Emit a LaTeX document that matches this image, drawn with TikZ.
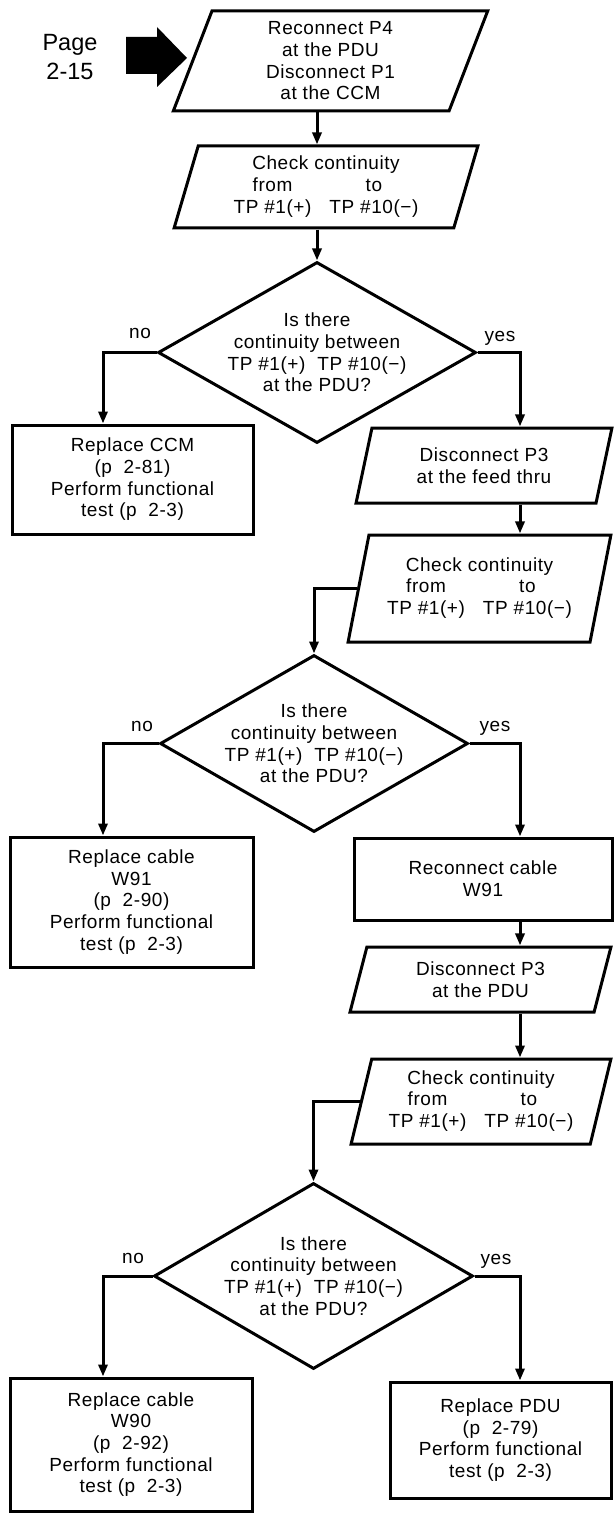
\documentclass[tikz,border=0pt]{standalone}
\usepackage{fontspec}
\setmainfont{Liberation Sans}[LetterSpace=3]
\newfontfamily\pagefont{Liberation Sans}
\usetikzlibrary{shapes.geometric,arrows.meta}
\newcommand{\chkcont}{\begin{tabular}{@{}c@{\hspace{18pt}}c@{}}\multicolumn{2}{@{}c@{}}{Check continuity}\\ from & to\\ TP \#1(+) & TP \#10(−)\end{tabular}}
\newcommand{\isthere}{Is there\\continuity between\\TP \#1(+)\hspace{12pt}TP \#10(−)\\at the PDU?}
\begin{document}
\begin{tikzpicture}[x=1pt,y=-1pt,
  every node/.style={font=\fontsize{19}{21.7}\selectfont},
  base/.style={draw, line width=3pt, inner sep=0pt, align=center},
  para/.style={base, trapezium, trapezium left angle=75, trapezium right angle=105, trapezium stretches=true},
  rect/.style={base, rectangle},
  dia/.style={base, diamond},
  txt/.style={align=center, inner sep=0pt},
  lbl/.style={inner sep=0pt, anchor=base},
  arr/.style={line width=3pt, -{Triangle[length=12pt,width=9pt]}}]
\fill[white] (0,0) rectangle (613,1514);
\useasboundingbox (0,0) rectangle (613,1514);

\coordinate (colL) at (103,0);
\coordinate (colR) at (520,0);

% entry
\node[txt, font=\pagefont\fontsize{23.5}{29}\selectfont] (pg) at (70,57.5) {Page\\2-15};
\fill (126,37) -- (157,37) -- (157,27) -- (187,58) -- (157,87) -- (157,74) -- (126,74) -- cycle;

% nodes
\node[para, minimum width=315, minimum height=100] (B1) at (330.5,61) {Reconnect P4\\at the PDU\\Disconnect P1\\at the CCM};
\node[para, minimum width=304, minimum height=82] (B2) at (326,187) {\chkcont};
\node[dia, minimum width=318, minimum height=181] (D1) at (317,352.5) {};
\node[txt] (D1t) at (D1.center) {\isthere};
\node[rect, minimum width=241, minimum height=109] (CCM) at (132.5,479.5) {Replace CCM\\(p\ \ 2-81)\\Perform functional\\test (p\ \ 2-3)};
\node[para, minimum width=256, minimum height=75] (FT) at (484,465.5) {Disconnect P3\\at the feed thru};
\node[para, minimum width=263, minimum height=107] (C2) at (479.5,588.5) {\chkcont};
\node[dia, minimum width=308, minimum height=177] (D2) at (314,743.5) {};
\node[txt] (D2t) at (D2.center) {\isthere};
\node[rect, minimum width=243, minimum height=130] (RW91) at (131.5,902) {Replace cable\\W91\\(p\ \ 2-90)\\Perform functional\\test (p\ \ 2-3)};
\node[rect, minimum width=258, minimum height=82] (CW91) at (483,879) {Reconnect cable\\W91};
\node[para, minimum width=261, minimum height=65] (PD) at (480.5,979.5) {Disconnect P3\\at the PDU};
\node[para, minimum width=260, minimum height=85] (C3) at (481,1101.5) {\chkcont};
\node[dia, minimum width=319, minimum height=186] (D3) at (313.5,1276) {};
\node[txt] (D3t) at (D3.center) {\isthere};
\node[rect, minimum width=242, minimum height=133] (RW90) at (131,1444.5) {Replace cable\\W90\\(p\ \ 2-92)\\Perform functional\\test (p\ \ 2-3)};
\node[rect, minimum width=221, minimum height=116] (RP) at (500.5,1440) {Replace PDU\\(p\ \ 2-79)\\Perform functional\\test (p\ \ 2-3)};

% labels
\node[lbl] (no1) at (140,338) {no};
\node[lbl] (yes1) at (500,341) {yes};
\node[lbl] (no2) at (142,731) {no};
\node[lbl] (yes2) at (495,731) {yes};
\node[lbl] (no3) at (133,1263) {no};
\node[lbl] (yes3) at (496,1264) {yes};

% connectors
\draw[arr] (B1.south -| D1.north) -- (B2.north -| D1.north);
\draw[arr] (B2.south -| D1.north) -- (D1.north);
\draw[arr] (D1.west) -| (colL |- CCM.north);
\draw[arr] (D1.east) -| (colR |- FT.north);
\draw[arr] (colR |- FT.south) -- (colR |- C2.north);
\draw[arr] (C2.west) -| (D2.north);
\draw[arr] (D2.west) -| (colL |- RW91.north);
\draw[arr] (D2.east) -| (colR |- CW91.north);
\draw[arr] (colR |- CW91.south) -- (colR |- PD.north);
\draw[arr] (colR |- PD.south) -- (colR |- C3.north);
\draw[arr] (C3.west) -| (D3.north);
\draw[arr] (D3.west) -| (colL |- RW90.north);
\draw[arr] (D3.east) -| (colR |- RP.north);
\end{tikzpicture}
\end{document}
